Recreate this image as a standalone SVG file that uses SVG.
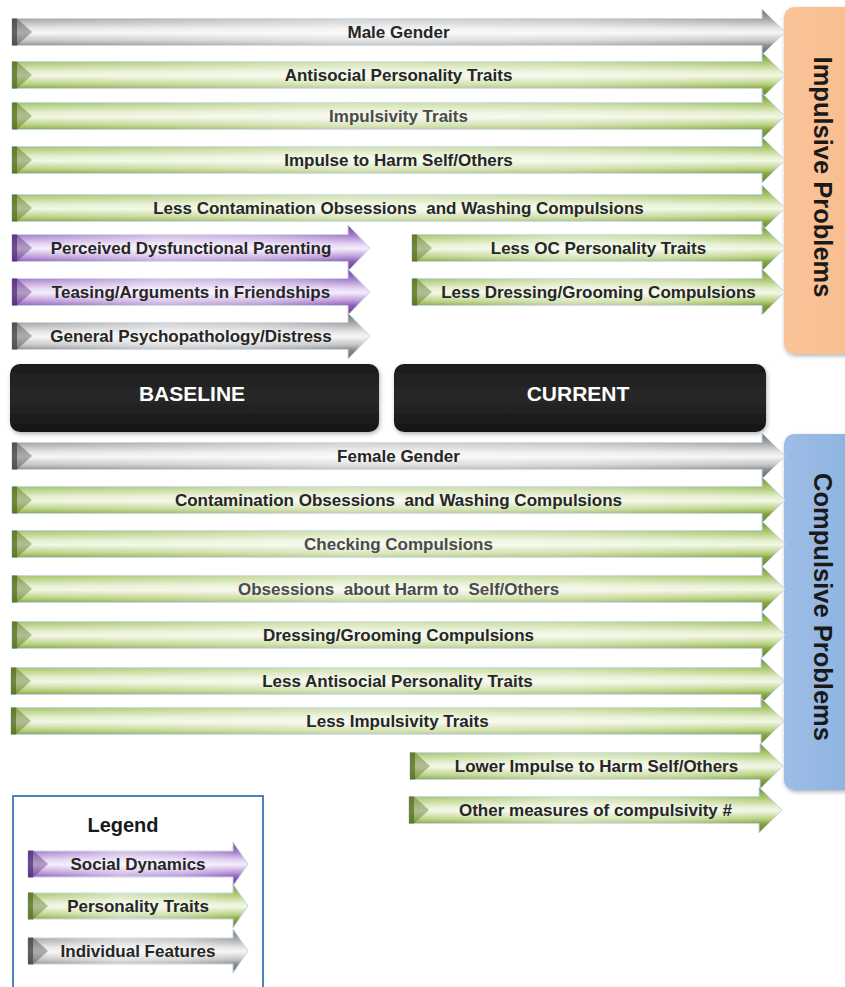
<svg xmlns="http://www.w3.org/2000/svg" xmlns:xlink="http://www.w3.org/1999/xlink" width="845" height="987" viewBox="0 0 845 987">
<style>
.t{font-family:"Liberation Sans",Arial,sans-serif;font-weight:bold;font-size:17px;fill:#262626;text-anchor:middle}
.tl{fill:#4a4a4a}
.pre{white-space:pre}
.g{fill:url(#gGreen);stroke:#c3d5ea;stroke-width:1}
.k{fill:url(#gGray);stroke:#c3d5ea;stroke-width:1}
.p{fill:url(#gPurple);stroke:#c3d5ea;stroke-width:1}
.capG{fill:#4f6a18}
.capK{fill:#3c3c3c}
.capP{fill:#4e2474}
.hl{fill:url(#hl)}
.box{font-family:"Liberation Sans",Arial,sans-serif;font-weight:bold;font-size:21px;fill:#ffffff;text-anchor:middle}
.vt{font-family:"Liberation Sans",Arial,sans-serif;font-weight:bold;font-size:25.5px;fill:#1a1a1a;text-anchor:middle}
</style>
<defs>
<linearGradient id="gGray" x1="0" y1="0" x2="0" y2="1">
<stop offset="0" stop-color="#6a6a6a"/><stop offset="0.22" stop-color="#a8a8a8"/><stop offset="0.42" stop-color="#e6e6e6"/><stop offset="0.52" stop-color="#f6f6f6"/><stop offset="0.7" stop-color="#c2c2c2"/><stop offset="0.8" stop-color="#8c8c8c"/><stop offset="1" stop-color="#666666"/>
</linearGradient>
<linearGradient id="gGreen" x1="0" y1="0" x2="0" y2="1">
<stop offset="0" stop-color="#6c8c2c"/><stop offset="0.22" stop-color="#a9c66c"/><stop offset="0.42" stop-color="#e3eecb"/><stop offset="0.52" stop-color="#f2f7e6"/><stop offset="0.7" stop-color="#b7d07e"/><stop offset="0.8" stop-color="#86a444"/><stop offset="1" stop-color="#66862a"/>
</linearGradient>
<linearGradient id="gPurple" x1="0" y1="0" x2="0" y2="1">
<stop offset="0" stop-color="#6a3d8f"/><stop offset="0.22" stop-color="#a67ecb"/><stop offset="0.42" stop-color="#e5d5f3"/><stop offset="0.52" stop-color="#f3ecfa"/><stop offset="0.7" stop-color="#b893d8"/><stop offset="0.8" stop-color="#8a5bb2"/><stop offset="1" stop-color="#6a3d8f"/>
</linearGradient>
<linearGradient id="hl" x1="0" y1="0" x2="1" y2="0">
<stop offset="0" stop-color="#ffffff" stop-opacity="0"/><stop offset="0.45" stop-color="#ffffff" stop-opacity="0.5"/><stop offset="0.75" stop-color="#ffffff" stop-opacity="0.35"/><stop offset="1" stop-color="#ffffff" stop-opacity="0"/>
</linearGradient>
<linearGradient id="gBlack" x1="0" y1="0" x2="0" y2="1">
<stop offset="0" stop-color="#1c1c1c"/><stop offset="0.5" stop-color="#282828"/><stop offset="1" stop-color="#151515"/>
</linearGradient>
<linearGradient id="gPeach" x1="0" y1="0" x2="1" y2="0">
<stop offset="0" stop-color="#fac49a"/><stop offset="1" stop-color="#f8bd8c"/>
</linearGradient>
<linearGradient id="gBlue" x1="0" y1="0" x2="1" y2="0">
<stop offset="0" stop-color="#9dbde6"/><stop offset="1" stop-color="#8db2e0"/>
</linearGradient>
<filter id="sh" x="-10%" y="-10%" width="130%" height="130%">
<feDropShadow dx="1" dy="2" stdDeviation="2" flood-color="#000" flood-opacity="0.3"/>
</filter>
<path id="aLong" d="M0 -13.5 H750 V-23 L773 0 L750 23 V13.5 H0 Z"/>
<path id="aShort" d="M0 -13.5 H336 V-23 L358 0 L336 23 V13.5 H0 Z"/>
<path id="aRight" d="M0 -13.5 H350 V-23 L373 0 L350 23 V13.5 H0 Z"/>
<path id="aLeg" d="M0 -13 H205 V-22 L220 0 L205 22 V13 H0 Z"/>
<g id="cap"><rect x="0" y="-13.5" width="5" height="27" opacity="0.8"/><path d="M5 -13.5 L20 0 L5 13.5 Z" opacity="0.4"/></g>
</defs>

<g id="impulsive-problems">
<rect x="784" y="7" width="75" height="347" rx="10" fill="url(#gPeach)" filter="url(#sh)"/>
<text class="vt" transform="translate(814,177) rotate(90)">Impulsive Problems</text>
</g>
<g id="compulsive-problems">
<rect x="784" y="434" width="75" height="356" rx="10" fill="url(#gBlue)" filter="url(#sh)"/>
<text class="vt" transform="translate(814,607) rotate(90)">Compulsive Problems</text>
</g>

<g id="baseline">
<rect x="10" y="364" width="369" height="68" rx="10" fill="url(#gBlack)" filter="url(#sh)"/>
<text class="box" x="192" y="401">BASELINE</text>
</g>
<g id="current">
<rect x="394" y="364" width="372" height="68" rx="10" fill="url(#gBlack)" filter="url(#sh)"/>
<text class="box" x="578" y="401">CURRENT</text>
</g>

<g id="connectors">
<g id="male-gender" transform="translate(12,32)">
<use xlink:href="#aLong" class="k"/><rect class="hl" x="0" y="-13.5" width="750" height="27"/><use xlink:href="#cap" class="capK"/>
<text class="t" x="386.5" y="6">Male Gender</text></g>
<g id="antisocial" transform="translate(12,75)">
<use xlink:href="#aLong" class="g"/><rect class="hl" x="0" y="-13.5" width="750" height="27"/><use xlink:href="#cap" class="capG"/>
<text class="t" x="386.5" y="6">Antisocial Personality Traits</text></g>
<g id="impulsivity" transform="translate(12,116)">
<use xlink:href="#aLong" class="g"/><rect class="hl" x="0" y="-13.5" width="750" height="27"/><use xlink:href="#cap" class="capG"/>
<text class="t tl" x="386.5" y="6">Impulsivity Traits</text></g>
<g id="impulse-harm" transform="translate(12,160)">
<use xlink:href="#aLong" class="g"/><rect class="hl" x="0" y="-13.5" width="750" height="27"/><use xlink:href="#cap" class="capG"/>
<text class="t" x="386.5" y="6">Impulse to Harm Self/Others</text></g>
<g id="less-contamination" transform="translate(12,208)">
<use xlink:href="#aLong" class="g"/><rect class="hl" x="0" y="-13.5" width="750" height="27"/><use xlink:href="#cap" class="capG"/>
<text class="t pre" x="386.5" y="6">Less Contamination Obsessions  and Washing Compulsions</text></g>
<g id="parenting" transform="translate(12,248)">
<use xlink:href="#aShort" class="p"/><rect class="hl" x="0" y="-13.5" width="336" height="27"/><use xlink:href="#cap" class="capP"/>
<text class="t" x="179" y="6">Perceived Dysfunctional Parenting</text></g>
<g id="teasing" transform="translate(12,292)">
<use xlink:href="#aShort" class="p"/><rect class="hl" x="0" y="-13.5" width="336" height="27"/><use xlink:href="#cap" class="capP"/>
<text class="t" x="179" y="6">Teasing/Arguments in Friendships</text></g>
<g id="general-psych" transform="translate(12,336)">
<use xlink:href="#aShort" class="k"/><rect class="hl" x="0" y="-13.5" width="336" height="27"/><use xlink:href="#cap" class="capK"/>
<text class="t" x="179" y="6">General Psychopathology/Distress</text></g>
<g id="less-oc" transform="translate(412,248)">
<use xlink:href="#aRight" class="g"/><rect class="hl" x="0" y="-13.5" width="350" height="27"/><use xlink:href="#cap" class="capG"/>
<text class="t" x="186.5" y="6">Less OC Personality Traits</text></g>
<g id="less-dressing" transform="translate(412,292)">
<use xlink:href="#aRight" class="g"/><rect class="hl" x="0" y="-13.5" width="350" height="27"/><use xlink:href="#cap" class="capG"/>
<text class="t" x="186.5" y="6">Less Dressing/Grooming Compulsions</text></g>

<g id="female-gender" transform="translate(12,456)">
<use xlink:href="#aLong" class="k"/><rect class="hl" x="0" y="-13.5" width="750" height="27"/><use xlink:href="#cap" class="capK"/>
<text class="t" x="386.5" y="6">Female Gender</text></g>
<g id="contamination" transform="translate(12,500)">
<use xlink:href="#aLong" class="g"/><rect class="hl" x="0" y="-13.5" width="750" height="27"/><use xlink:href="#cap" class="capG"/>
<text class="t pre" x="386.5" y="6">Contamination Obsessions  and Washing Compulsions</text></g>
<g id="checking" transform="translate(12,544)">
<use xlink:href="#aLong" class="g"/><rect class="hl" x="0" y="-13.5" width="750" height="27"/><use xlink:href="#cap" class="capG"/>
<text class="t tl" x="386.5" y="6">Checking Compulsions</text></g>
<g id="obsessions-harm" transform="translate(12,589)">
<use xlink:href="#aLong" class="g"/><rect class="hl" x="0" y="-13.5" width="750" height="27"/><use xlink:href="#cap" class="capG"/>
<text class="t tl pre" x="386.5" y="6">Obsessions  about Harm to  Self/Others</text></g>
<g id="dressing" transform="translate(12,635)">
<use xlink:href="#aLong" class="g"/><rect class="hl" x="0" y="-13.5" width="750" height="27"/><use xlink:href="#cap" class="capG"/>
<text class="t" x="386.5" y="6">Dressing/Grooming Compulsions</text></g>
<g id="less-antisocial" transform="translate(11,681)">
<use xlink:href="#aLong" class="g"/><rect class="hl" x="0" y="-13.5" width="750" height="27"/><use xlink:href="#cap" class="capG"/>
<text class="t" x="386.5" y="6">Less Antisocial Personality Traits</text></g>
<g id="less-impulsivity" transform="translate(11,721)">
<use xlink:href="#aLong" class="g"/><rect class="hl" x="0" y="-13.5" width="750" height="27"/><use xlink:href="#cap" class="capG"/>
<text class="t" x="386.5" y="6">Less Impulsivity Traits</text></g>
<g id="lower-impulse" transform="translate(410,766)">
<use xlink:href="#aRight" class="g"/><rect class="hl" x="0" y="-13.5" width="350" height="27"/><use xlink:href="#cap" class="capG"/>
<text class="t" x="186.5" y="6">Lower Impulse to Harm Self/Others</text></g>
<g id="other-measures" transform="translate(409,810)">
<use xlink:href="#aRight" class="g"/><rect class="hl" x="0" y="-13.5" width="350" height="27"/><use xlink:href="#cap" class="capG"/>
<text class="t" x="186.5" y="6">Other measures of compulsivity #</text></g>
</g>

<g id="legend">
<rect x="13" y="796" width="250" height="200" fill="#ffffff" stroke="#4f81bd" stroke-width="2"/>
<text x="123" y="832" style="font-family:'Liberation Sans',Arial,sans-serif;font-weight:bold;font-size:20px;fill:#1a1a1a;text-anchor:middle">Legend</text>
<g id="legend-social" transform="translate(28,864)">
<use xlink:href="#aLeg" class="p"/><rect class="hl" x="0" y="-13" width="205" height="26"/><use xlink:href="#cap" class="capP"/>
<text class="t" x="110" y="6">Social Dynamics</text></g>
<g id="legend-personality" transform="translate(28,906)">
<use xlink:href="#aLeg" class="g"/><rect class="hl" x="0" y="-13" width="205" height="26"/><use xlink:href="#cap" class="capG"/>
<text class="t" x="110" y="6">Personality Traits</text></g>
<g id="legend-individual" transform="translate(28,951)">
<use xlink:href="#aLeg" class="k"/><rect class="hl" x="0" y="-13" width="205" height="26"/><use xlink:href="#cap" class="capK"/>
<text class="t" x="110" y="6">Individual Features</text></g>
</g>
</svg>
